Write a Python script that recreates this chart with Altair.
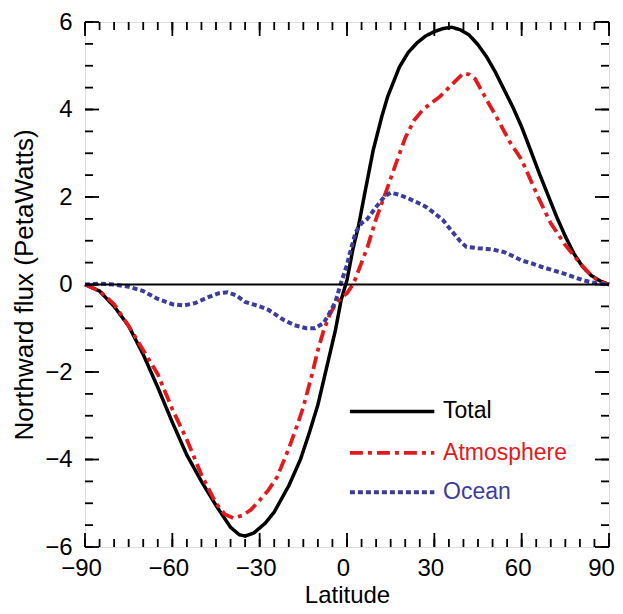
import altair as alt
import pandas as pd

# ---------------- data ----------------
series_names = ["Total", "Atmosphere", "Ocean"]
series_colors = ["#000000", "#e31a1c", "#3c3c9e"]
series_dashes = [[1, 0], [13, 5, 4, 5], [5, 3]]
series_widths = [3.5, 4.0, 3.5]

total_lat = [-90, -85, -80, -75, -70, -65, -60, -55, -50, -45, -40, -37, -35, -32, -28, -25,
             -20, -16, -13, -10, -7, -4, -2, 0, 2, 4, 6, 9, 12, 14, 18, 21, 24, 27, 30, 33, 36,
             39, 42, 45, 48, 51, 54, 57, 60, 63, 66, 69, 72, 75, 78, 81, 84, 87, 90]
total_flux = [0.0, -0.15, -0.5, -0.95, -1.6, -2.35, -3.15, -3.9, -4.5, -5.05, -5.55, -5.72, -5.75,
              -5.68, -5.45, -5.2, -4.6, -4.0, -3.4, -2.75, -1.9, -1.05, -0.35, 0.1, 0.8, 1.35,
              2.05, 3.07, 3.85, 4.3, 4.97, 5.3, 5.52, 5.68, 5.78, 5.85, 5.88, 5.82, 5.7, 5.48,
              5.2, 4.85, 4.45, 4.05, 3.6, 3.08, 2.55, 2.05, 1.55, 1.1, 0.7, 0.4, 0.2, 0.08, 0.0]

atm_lat = [-90, -85, -80, -75, -70, -65, -60, -55, -50, -45, -42, -39, -36, -33, -30, -27, -24,
           -20, -17, -15, -12, -10, -8, -6, -4, -2, 0, 2, 3, 5, 7, 10, 14, 17, 20, 23, 26, 29,
           32, 35, 38, 40, 42, 44, 48, 52, 56, 60, 63, 66, 70, 75, 80, 84, 87, 90]
atm_flux = [0.0, -0.15, -0.45, -0.95, -1.5, -2.05, -2.85, -3.55, -4.35, -5.0, -5.25, -5.34,
            -5.28, -5.15, -4.93, -4.7, -4.4, -3.75, -3.2, -2.8, -2.05, -1.5, -1.05, -0.7, -0.45,
            -0.3, -0.2, 0.0, 0.15, 0.5, 0.85, 1.5, 2.23, 2.8, 3.35, 3.75, 3.99, 4.15, 4.3, 4.5,
            4.7, 4.83, 4.8, 4.7, 4.22, 3.75, 3.25, 2.85, 2.4, 1.95, 1.4, 0.9, 0.49, 0.2, 0.06, 0.0]

ocean_lat = [-90, -85, -80, -75, -70, -65, -60, -56, -52, -48, -44, -41, -38, -35, -30, -27, -22,
             -18, -14, -11, -8, -6, -4, -2, 0, 1, 3, 5, 7, 10, 13, 15, 18, 21, 24, 27, 30, 33,
             36, 39, 41, 45, 50, 54, 57, 60, 64, 67, 70, 74, 78, 81, 84, 87, 90]
ocean_flux = [0.0, 0.02, 0.0, -0.05, -0.15, -0.33, -0.45, -0.48, -0.42, -0.3, -0.2, -0.18,
              -0.25, -0.4, -0.5, -0.58, -0.8, -0.93, -1.0, -1.0, -0.88, -0.65, -0.4, 0.05, 0.45,
              0.72, 1.2, 1.4, 1.5, 1.77, 2.02, 2.1, 2.05, 1.97, 1.88, 1.78, 1.63, 1.47, 1.22,
              0.98, 0.86, 0.83, 0.8, 0.74, 0.65, 0.55, 0.47, 0.4, 0.34, 0.26, 0.17, 0.1, 0.05,
              0.02, 0.0]

x_major = [-90, -60, -30, 0, 30, 60, 90]
x_minor = list(range(-90, 91, 5))
y_major = [-6, -4, -2, 0, 2, 4, 6]
y_minor = [v / 2 for v in range(-12, 13)]

# legend placement (data coordinates)
legend_x1 = [1, 1, 1]
legend_x2 = [30, 30, 30]
legend_xt = [33, 33, 33]
legend_y = [-2.9, -3.85, -4.75]

# ---------------- build ----------------
rows = []
for name, lats, vals in [("Total", total_lat, total_flux),
                         ("Atmosphere", atm_lat, atm_flux),
                         ("Ocean", ocean_lat, ocean_flux)]:
    for la, v in zip(lats, vals):
        rows.append({"series": name, "lat": la, "flux": v})
df = pd.DataFrame(rows)

leg = pd.DataFrame({"series": series_names, "x1": legend_x1, "x2": legend_x2,
                    "xt": legend_xt, "y": legend_y})

W, H = 524, 525
FONT = "Liberation Sans"
MAJ, MIN = 14, 8

xs = alt.Scale(domain=[-90, 90], nice=False, zero=False)
ys = alt.Scale(domain=[-6, 6], nice=False, zero=False)
color = alt.Color("series:N", scale=alt.Scale(domain=series_names, range=series_colors), legend=None)
dash = alt.StrokeDash("series:N", scale=alt.Scale(domain=series_names, range=series_dashes), legend=None)
swidth = alt.StrokeWidth("series:N", scale=alt.Scale(domain=series_names, range=series_widths), legend=None)

x_axis = alt.Axis(values=x_major, title="Latitude", grid=False, ticks=False, tickSize=0,
                  domain=False, labelFont=FONT, labelFontSize=24, labelPadding=9,
                  labelColor="black", labelOverlap=False, labelFlush=False,
                  labelOffset={"condition": {"test": "datum.value == 90", "value": -8}, "value": -4},
                  titleFont=FONT, titleFontSize=24, titleFontWeight="normal", titleColor="black",
                  titlePadding=3)
y_axis = alt.Axis(values=y_major, title="Northward flux (PetaWatts)", grid=False, ticks=False,
                  tickSize=0, domain=False, labelFont=FONT, labelFontSize=24, labelPadding=13,
                  labelColor="black", labelOverlap=False, labelFlush=False,
                  titleFont=FONT, titleFontSize=26, titleFontWeight="normal", titleColor="black",
                  titlePadding=7)


def X(field):
    return alt.X(field, scale=xs, axis=x_axis, title="Latitude")


def Y(field):
    return alt.Y(field, scale=ys, axis=y_axis, title="Northward flux (PetaWatts)")


lines = alt.Chart(df).mark_line().encode(
    x=X("lat:Q"), y=Y("flux:Q"),
    color=color, strokeDash=dash, strokeWidth=swidth,
    detail="series:N",
)

zero = alt.Chart(pd.DataFrame({"z": [0]})).mark_rule(color="black", strokeWidth=2).encode(
    y=Y("z:Q"))


def xticks(vals, length, top):
    d = pd.DataFrame({"v": vals})
    y0, y1 = (0, length) if top else (H, H - length)
    return alt.Chart(d).mark_rule(color="black", strokeWidth=1.8).encode(
        x=X("v:Q"), y=alt.value(y0), y2=alt.value(y1))


def yticks(vals, length, left):
    d = pd.DataFrame({"v": vals})
    x0, x1 = (0, length) if left else (W, W - length)
    return alt.Chart(d).mark_rule(color="black", strokeWidth=1.8).encode(
        y=Y("v:Q"), x=alt.value(x0), x2=alt.value(x1))


ticks = [xticks(x_minor, MIN, True), xticks(x_minor, MIN, False),
         xticks(x_major, MAJ, True), xticks(x_major, MAJ, False),
         yticks(y_minor, MIN, True), yticks(y_minor, MIN, False),
         yticks(y_major, MAJ, True), yticks(y_major, MAJ, False)]

leg_lines = alt.Chart(leg).mark_rule().encode(
    x=X("x1:Q"), x2="x2:Q", y=Y("y:Q"),
    color=color, strokeDash=dash, strokeWidth=swidth)

leg_text = alt.Chart(leg).mark_text(align="left", baseline="middle", font=FONT, fontSize=23).encode(
    x=X("xt:Q"), y=Y("y:Q"), text="series:N", color=color)

chart = alt.layer(lines, zero, *ticks, leg_lines, leg_text).properties(
    width=W, height=H,
    autosize=alt.AutoSizeParams(type="none"),
    padding={"left": 77, "top": 14, "right": 6, "bottom": 59},
).configure_view(stroke="black", strokeWidth=2.5).configure(background="white")

chart.save("out.html", embed_options={"renderer": "svg", "actions": False})
